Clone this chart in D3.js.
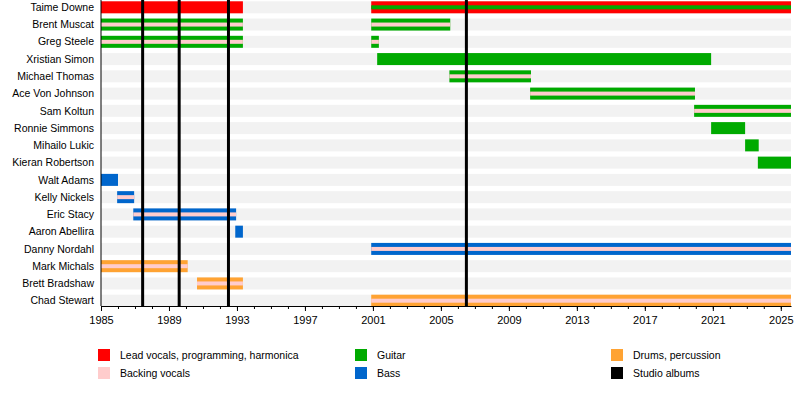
<!DOCTYPE html>
<html>
<head>
<meta charset="utf-8">
<script src="https://cdn.jsdelivr.net/npm/d3@7"></script>
<style>
  body { margin: 0; background: #fff; }
  text { font-family: "Liberation Sans", Arial, sans-serif; fill: #000; }
</style>
</head>
<body>
<div id="chart"></div>
<script>
// band members, top to bottom
const members = [
  'Taime Downe', 'Brent Muscat', 'Greg Steele', 'Xristian Simon', 'Michael Thomas',
  'Ace Von Johnson', 'Sam Koltun', 'Ronnie Simmons', 'Mihailo Lukic', 'Kieran Robertson',
  'Walt Adams', 'Kelly Nickels', 'Eric Stacy', 'Aaron Abellira', 'Danny Nordahl',
  'Mark Michals', 'Brett Bradshaw', 'Chad Stewart'
];

const endYear = 2025.6;

// [member, from, to, main role, stripe role]
const stints = [
  ['Taime Downe', 1985, 1993.35, 'lead', null],
  ['Taime Downe', 2000.9, endYear, 'lead', 'guitar'],
  ['Brent Muscat', 1985, 1993.35, 'guitar', 'backing'],
  ['Brent Muscat', 2000.9, 2005.55, 'guitar', 'backing'],
  ['Greg Steele', 1985, 1993.35, 'guitar', 'backing'],
  ['Greg Steele', 2000.9, 2001.35, 'guitar', 'backing'],
  ['Xristian Simon', 2001.25, 2020.9, 'guitar', null],
  ['Michael Thomas', 2005.5, 2010.3, 'guitar', 'backing'],
  ['Ace Von Johnson', 2010.25, 2019.95, 'guitar', 'backing'],
  ['Sam Koltun', 2019.9, endYear, 'guitar', 'backing'],
  ['Ronnie Simmons', 2020.9, 2022.9, 'guitar', null],
  ['Mihailo Lukic', 2022.9, 2023.7, 'guitar', null],
  ['Kieran Robertson', 2023.65, endYear, 'guitar', null],
  ['Walt Adams', 1985, 1986, 'bass', null],
  ['Kelly Nickels', 1985.95, 1986.95, 'bass', 'backing'],
  ['Eric Stacy', 1986.9, 1992.95, 'bass', 'backing'],
  ['Aaron Abellira', 1992.9, 1993.35, 'bass', null],
  ['Danny Nordahl', 2000.9, endYear, 'bass', 'backing'],
  ['Mark Michals', 1985, 1990.1, 'drums', 'backing'],
  ['Brett Bradshaw', 1990.65, 1993.35, 'drums', 'backing'],
  ['Chad Stewart', 2000.9, endYear, 'drums', 'backing']
];

// studio album release dates
const albums = [1987.45, 1989.6, 1992.5, 2006.5];

const tickYears = [1985, 1989, 1993, 1997, 2001, 2005, 2009, 2013, 2017, 2021, 2025];

const roles = ['lead', 'backing', 'guitar', 'bass', 'drums', 'albums'];
const roleLabels = ['Lead vocals, programming, harmonica', 'Backing vocals', 'Guitar', 'Bass', 'Drums, percussion', 'Studio albums'];
const roleColors = ['#ff0000', '#ffcccc', '#00aa00', '#0066cc', '#ffa333', '#000000'];

const color = d3.scaleOrdinal().domain(roles).range(roleColors);

const width = 800, height = 396;
const left = 101, right = 791, bottom = 306;

const svg = d3.select('#chart').append('svg')
  .attr('width', width)
  .attr('height', height);

const x = d3.scaleLinear().domain([1985, endYear]).range([left, right]);
const y = d3.scalePoint().domain(members).range([7.3, 300.7]);
const barH = 12;

// grey row backgrounds
svg.append('g').selectAll('rect')
  .data(members)
  .enter().append('rect')
  .attr('x', left)
  .attr('y', d => y(d) - barH / 2)
  .attr('width', right - left)
  .attr('height', barH)
  .attr('fill', '#f2f2f2');

// member bars
const bars = svg.append('g');
bars.selectAll('rect.main')
  .data(stints)
  .enter().append('rect')
  .attr('class', 'main')
  .attr('x', d => x(d[1]))
  .attr('y', d => y(d[0]) - barH / 2)
  .attr('width', d => x(d[2]) - x(d[1]))
  .attr('height', barH)
  .attr('fill', d => color(d[3]));

bars.selectAll('rect.stripe')
  .data(stints.filter(d => d[4]))
  .enter().append('rect')
  .attr('class', 'stripe')
  .attr('x', d => x(d[1]))
  .attr('y', d => y(d[0]) - 2)
  .attr('width', d => x(d[2]) - x(d[1]))
  .attr('height', 4)
  .attr('fill', d => color(d[4]));

// album lines
svg.append('g').selectAll('line')
  .data(albums)
  .enter().append('line')
  .attr('x1', d => x(d))
  .attr('x2', d => x(d))
  .attr('y1', 0)
  .attr('y2', bottom)
  .attr('stroke', '#000')
  .attr('stroke-width', 3);

// member names
svg.append('g').selectAll('text')
  .data(members)
  .enter().append('text')
  .attr('x', 94)
  .attr('y', d => y(d))
  .attr('dy', '0.35em')
  .attr('text-anchor', 'end')
  .attr('font-size', '10.5px')
  .text(d => d);

// left edge
svg.append('line')
  .attr('x1', left).attr('x2', left)
  .attr('y1', 0).attr('y2', bottom)
  .attr('stroke', '#000');

// minor year ticks
svg.append('g')
  .attr('transform', 'translate(0,' + bottom + ')')
  .call(d3.axisBottom(x).tickValues(d3.range(1985, 2026)).tickSize(3).tickFormat(''))
  .call(g => g.select('.domain').remove());

// major ticks + labels
svg.append('g')
  .attr('transform', 'translate(0,' + bottom + ')')
  .call(d3.axisBottom(x).tickValues(tickYears).tickSize(5).tickSizeOuter(0).tickFormat(d3.format('d')))
  .call(g => g.selectAll('text').attr('font-size', '11px').attr('font-family', '"Liberation Sans", Arial, sans-serif').attr('dy', '0.95em'));

// legend
const legendX = [98, 355, 611];
const legend = svg.append('g').selectAll('g')
  .data(roles)
  .enter().append('g')
  .attr('transform', (d, i) => 'translate(' + legendX[Math.floor(i / 2)] + ',' + (349 + (i % 2) * 18) + ')');

legend.append('rect')
  .attr('width', 12)
  .attr('height', 12)
  .attr('fill', d => color(d));

legend.append('text')
  .attr('x', 22)
  .attr('y', 6)
  .attr('dy', '0.35em')
  .attr('font-size', '10.5px')
  .text((d, i) => roleLabels[i]);
</script>
</body>
</html>
